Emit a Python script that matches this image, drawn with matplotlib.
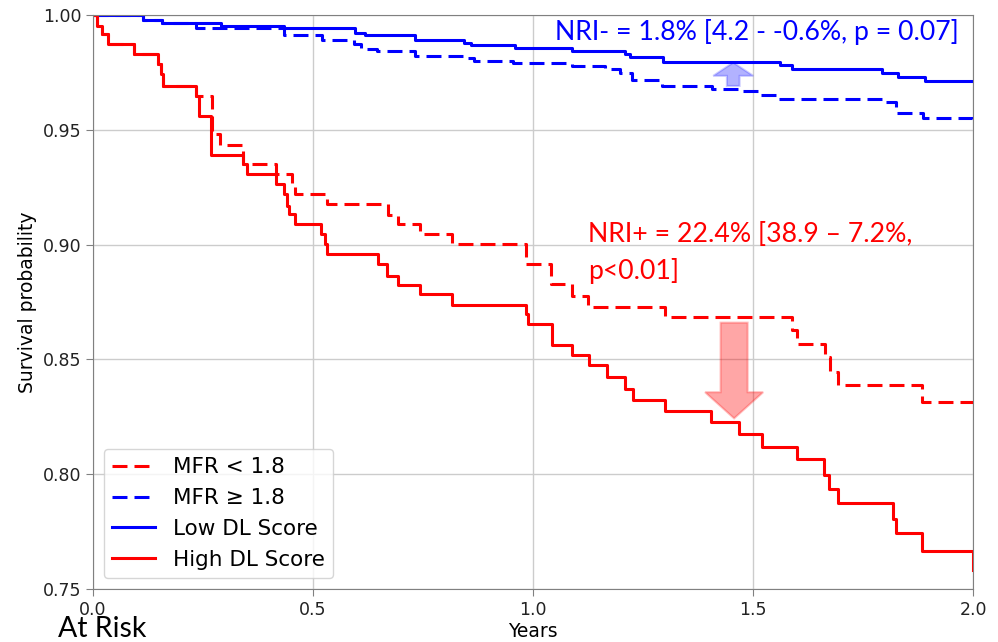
import matplotlib
matplotlib.use("Agg")
import matplotlib.pyplot as plt
from matplotlib.patches import FancyArrow

# Kaplan-Meier style step curves
high_dl_t = [0.0, 0.008, 0.020, 0.035, 0.094, 0.148, 0.154, 0.160, 0.234, 0.240,
             0.268, 0.342, 0.349, 0.416, 0.433, 0.440, 0.446, 0.459, 0.517, 0.527,
             0.531, 0.647, 0.667, 0.692, 0.743, 0.815, 0.984, 0.989, 1.042, 1.088,
             1.127, 1.167, 1.209, 1.228, 1.301, 1.404, 1.469, 1.520, 1.601, 1.661,
             1.673, 1.694, 1.819, 1.826, 1.883, 1.999, 2.0]
high_dl_s = [1.0, 0.9952, 0.9916, 0.9872, 0.9829, 0.9786, 0.9742, 0.9691, 0.9648, 0.956,
             0.939, 0.935, 0.9307, 0.9264, 0.922, 0.917, 0.9133, 0.909, 0.9047, 0.9003,
             0.8957, 0.8916, 0.8865, 0.8822, 0.8783, 0.8739, 0.8699, 0.8652, 0.8561, 0.8517,
             0.8474, 0.8423, 0.8373, 0.8325, 0.8275, 0.8227, 0.8173, 0.8119, 0.8064, 0.7996,
             0.7936, 0.7875, 0.7803, 0.7742, 0.7667, 0.7583, 0.7583]

mfr_low_t = [0.0, 0.008, 0.020, 0.035, 0.094, 0.148, 0.154, 0.160, 0.234, 0.271,
             0.288, 0.342, 0.416, 0.452, 0.459, 0.531, 0.671, 0.694, 0.743, 0.815,
             0.984, 1.041, 1.089, 1.125, 1.301, 1.588, 1.599, 1.664, 1.675, 1.694,
             1.883, 2.0]
mfr_low_s = [1.0, 0.9952, 0.9916, 0.9872, 0.9829, 0.9786, 0.9742, 0.9691, 0.9648, 0.948,
             0.9435, 0.935, 0.9307, 0.9264, 0.922, 0.9177, 0.913, 0.909, 0.9047, 0.9003,
             0.8916, 0.8829, 0.8778, 0.873, 0.8684, 0.8626, 0.8568, 0.851, 0.8445, 0.839,
             0.8314, 0.8314]

low_dl_t = [0.0, 0.114, 0.157, 0.292, 0.433, 0.595, 0.618, 0.732, 0.842, 0.860,
            0.959, 1.088, 1.209, 1.220, 1.296, 1.561, 1.588, 1.792, 1.830, 1.891, 2.0]
low_dl_s = [1.0, 0.9977, 0.9967, 0.9952, 0.9942, 0.9923, 0.9912, 0.989, 0.988, 0.9868,
            0.9855, 0.9843, 0.9832, 0.9817, 0.9796, 0.9781, 0.9764, 0.9749, 0.973, 0.9713, 0.9713]

mfr_high_t = [0.0, 0.114, 0.157, 0.235, 0.433, 0.520, 0.592, 0.610, 0.645, 0.732,
              0.842, 0.865, 0.955, 1.088, 1.164, 1.198, 1.224, 1.292, 1.406, 1.470,
              1.516, 1.557, 1.792, 1.826, 1.887, 1.997, 2.0]
mfr_high_s = [1.0, 0.9977, 0.9967, 0.9945, 0.9912, 0.989, 0.9873, 0.9851, 0.9843, 0.9822,
              0.9812, 0.980, 0.979, 0.9778, 0.9764, 0.9749, 0.9717, 0.9691, 0.9677, 0.9667,
              0.9651, 0.9636, 0.9619, 0.9575, 0.9551, 0.9532, 0.9532]

xticks = [0.0, 0.5, 1.0, 1.5, 2.0]
yticks = [0.75, 0.80, 0.85, 0.90, 0.95, 1.00]

nri_minus = "NRI- = 1.8% [4.2 - -0.6%, p = 0.07]"
nri_plus = ["NRI+ = 22.4% [38.9 \u2013 7.2%,", "p<0.01]"]

fig = plt.figure(figsize=(9.98, 6.42), dpi=100)
ax = fig.add_axes([0.0932, 0.0826, 0.8818, 0.894])

lw = 2.2
dash = (4.9, 2.3)
ax.step(mfr_low_t, mfr_low_s, where='post', color='red', lw=lw, ls='--', dashes=dash, label='MFR < 1.8')
ax.step(mfr_high_t, mfr_high_s, where='post', color='blue', lw=lw, ls='--', dashes=dash, label='MFR \u2265 1.8')
ax.step(low_dl_t, low_dl_s, where='post', color='blue', lw=lw, label='Low DL Score')
ax.step(high_dl_t, high_dl_s, where='post', color='red', lw=lw, label='High DL Score')

ax.set_xlim(0, 2)
ax.set_ylim(0.75, 1.0)
ax.set_xticks(xticks)
ax.set_xticklabels(["%.1f" % v for v in xticks])
ax.set_yticks(yticks)
ax.set_yticklabels(["%.2f" % v for v in yticks])
ax.grid(True, color='#cccccc', lw=1)
ax.set_axisbelow(True)
for sp in ax.spines.values():
    sp.set_color('#808080')
ax.tick_params(labelsize=12.5, colors='#808080', labelcolor='#222222', length=5)

ax.set_xlabel('Years', fontsize=13.5, labelpad=2)
ax.set_ylabel('Survival probability', fontsize=13.5)

# NRI arrows
ax.add_patch(FancyArrow(1.455, 0.9691, 0, 0.0102, width=0.029, head_width=0.091,
                        head_length=0.0058, length_includes_head=True,
                        fc=(0, 0, 1, 0.3), ec=(0, 0, 1, 0.2), lw=1.5, zorder=5))
ax.add_patch(FancyArrow(1.457, 0.866, 0, -0.0417, width=0.0614, head_width=0.132,
                        head_length=0.0114, length_includes_head=True,
                        fc=(1, 0, 0, 0.35), ec=(1, 0, 0, 0.25), lw=1.5, zorder=5))

ax.text(1.05, 0.9891, nri_minus, color='blue', fontsize=19.2, family='Lato', va='baseline')
ax.text(1.125, 0.9013, nri_plus[0], color='red', fontsize=19.2, family='Lato', va='baseline')
ax.text(1.125, 0.8852, nri_plus[1], color='red', fontsize=19.2, family='Lato', va='baseline')

ax.legend(loc='lower left', fontsize=15.5, borderaxespad=0.5)

fig.text(58 / 998, 5 / 642, 'At Risk', fontsize=20.5, family='Lato', va='baseline')

fig.savefig('out.png', dpi=100)
